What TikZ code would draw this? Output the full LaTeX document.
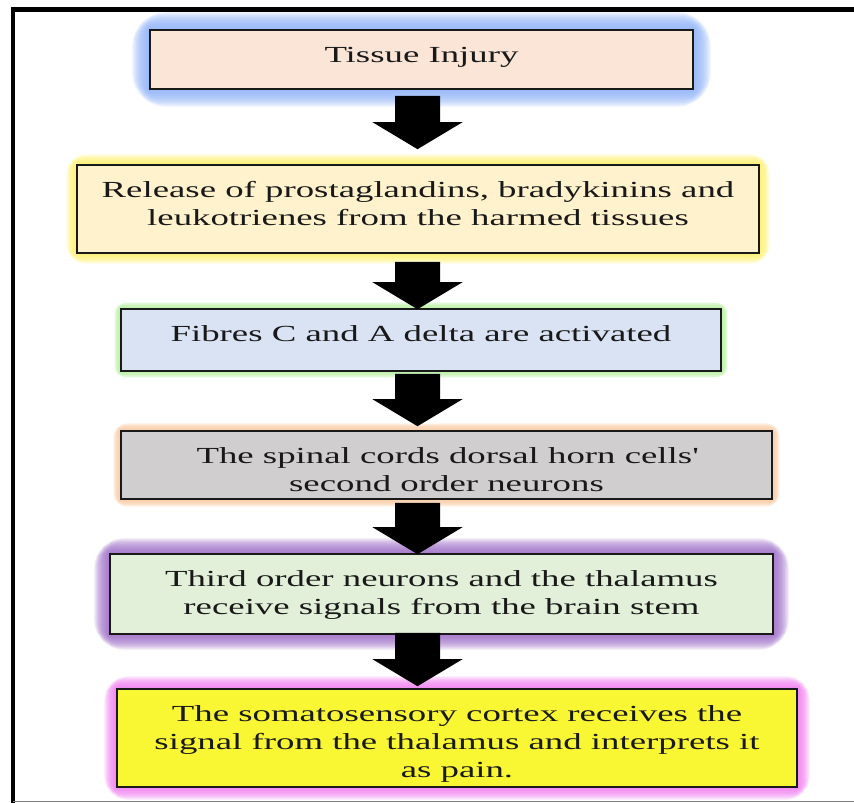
\documentclass[tikz,border=0pt]{standalone}
\usepackage{fontspec}
\setmainfont{Liberation Serif}[FakeStretch=1.6]
\usepackage{tikz}
\usetikzlibrary{calc}
\usetikzlibrary{backgrounds}
\usetikzlibrary{positioning}

\definecolor{injuryfill}{HTML}{FBE5D6}
\definecolor{releasefill}{HTML}{FFF2CC}
\definecolor{fibrefill}{HTML}{DAE3F3}
\definecolor{spinalfill}{HTML}{D0CECE}
\definecolor{thalamusfill}{HTML}{E2F0D9}
\definecolor{cortexfill}{HTML}{F9F733}
\definecolor{glowblue}{HTML}{8CB0F8}
\definecolor{glowyellow}{HTML}{FFF06A}
\definecolor{glowgreen}{HTML}{B5EE9E}
\definecolor{gloworange}{HTML}{F9C8A0}
\definecolor{glowpurple}{HTML}{9B6BC5}
\definecolor{glowmagenta}{HTML}{F07CF0}

% text sits at the top of each box
\newcommand{\stagetext}[3]{\parbox[c][#2pt][t]{#1pt}{\centering\rule{0pt}{32pt}#3}}
\newcommand{\glowaround}[3]{%
  \begin{pgfonlayer}{background}
  \foreach \k in {1,...,14}{
    \pgfmathsetmacro{\lw}{2*\k*#3/14}
    \pgfmathsetmacro{\rc}{\k*#3/14}
    \draw[draw=#2, line width=\lw pt, opacity=0.13, rounded corners=\rc pt] (#1.south west) rectangle (#1.north east);
  }
  \end{pgfonlayer}}

\begin{document}
\begin{tikzpicture}[x=1pt, y=-1pt, font=\fontsize{23}{28}\selectfont]
 \tikzstyle{stage}=[rectangle, draw=black!90, line width=1.6pt, inner sep=0pt, text=black!90]
 \tikzstyle{blockarrow}=[fill=black]
 \useasboundingbox (0,0) rectangle (854,803);

 \draw[line width=4.5pt] (854,9.5) -- (13,9.5) -- (13,803);
 \draw[gray, line width=1pt] (13,801.5) -- (854,801.5);

 \node[stage, fill=injuryfill] (b1) at (421.5,59.5) {\stagetext{543}{59}{Tissue Injury}};
 \node[stage, fill=releasefill] (b2) at (418,209) {\stagetext{682}{88}{Release of prostaglandins, bradykinins and\\ leukotrienes from the harmed tissues}};
 \node[stage, fill=fibrefill] (b3) at (421,340) {\stagetext{600}{62}{Fibres C and A delta are activated}};
 \node[stage, fill=spinalfill] (b4) at (446.5,465) {\stagetext{651}{68}{The spinal cords dorsal horn cells\textquotesingle\\ second order neurons}};
 \node[stage, fill=thalamusfill] (b5) at (441.5,594) {\stagetext{663}{80}{Third order neurons and the thalamus\\ receive signals from the brain stem}};
 \node[stage, fill=cortexfill] (b6) at (457,738) {\stagetext{680}{98}{The somatosensory cortex receives the\\ signal from the thalamus and interprets it\\ as pain.}};

 \glowaround{b1}{glowblue}{17}
 \glowaround{b2}{glowyellow}{10}
 \glowaround{b3}{glowgreen}{6}
 \glowaround{b4}{gloworange}{7}
 \glowaround{b5}{glowpurple}{15}
 \glowaround{b6}{glowmagenta}{12}

 \coordinate (ax) at (417.5,0);
 \foreach \a/\b/\s/\e in {b1/b2/6/-15, b2/b3/8/1, b3/b4/2/-4, b4/b5/3/1, b5/b6/-2/-2}{
   \coordinate (tail) at ($(\a.south -| ax)+(0,\s)$);
   \coordinate (tip) at ($(\b.north -| ax)+(0,\e)$);
   \fill[blockarrow] ($(tail)+(-22.5,0)$) -- ($(tail)+(22.5,0)$) -- ($(tip)+(22.5,-27)$) -- ($(tip)+(45,-27)$)
     -- (tip) -- ($(tip)+(-45,-27)$) -- ($(tip)+(-22.5,-27)$) -- cycle;
 }
\end{tikzpicture}
\end{document}
